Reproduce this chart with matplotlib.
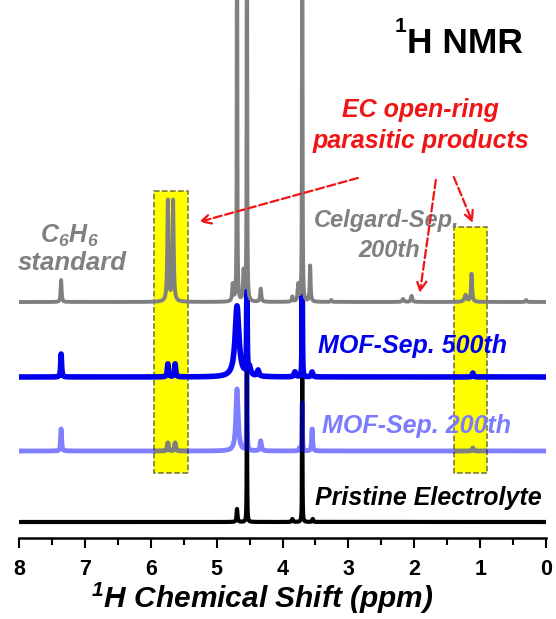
import numpy as np
import matplotlib.pyplot as plt
from matplotlib.patches import Rectangle
from matplotlib.ticker import MultipleLocator

plt.rcParams['font.family'] = 'Liberation Sans'
plt.rcParams['mathtext.fontset'] = 'custom'
plt.rcParams['mathtext.rm'] = 'Liberation Sans:bold:italic'
plt.rcParams['mathtext.it'] = 'Liberation Sans:bold:italic'
plt.rcParams['mathtext.bf'] = 'Liberation Sans:bold'

# peak lists: shift (ppm), height, half width (ppm)
gray_shift = [7.36, 5.74, 5.66, 4.755, 4.69, 4.59, 4.54, 4.33, 3.85, 3.76, 3.70, 3.58, 3.26, 2.17, 2.04, 1.22, 1.13, 0.30]
gray_height = [22, 101, 101, 17, 800, 30, 800, 13, 5, 17, 800, 36, 2, 3, 6, 7, 28, 2]
gray_width = [0.008, 0.010, 0.010, 0.010, 0.003, 0.010, 0.003, 0.010, 0.010, 0.010, 0.003, 0.008, 0.01, 0.015, 0.012, 0.02, 0.010, 0.01]

blue_shift = [7.36, 5.74, 5.63, 4.69, 4.54, 4.50, 4.37, 3.81, 3.70, 3.55, 1.11]
blue_height = [23, 13, 13, 71, 95, 8, 6, 5, 95, 5, 4]
blue_width = [0.008, 0.010, 0.010, 0.035, 0.005, 0.02, 0.015, 0.015, 0.004, 0.012, 0.010]

light_shift = [7.36, 5.74, 5.63, 4.69, 4.54, 4.33, 3.74, 3.70, 3.55, 1.11]
light_height = [22, 8, 8, 62, 90, 10, 3, 48, 22, 3]
light_width = [0.008, 0.010, 0.010, 0.020, 0.004, 0.012, 0.01, 0.004, 0.008, 0.010]

black_shift = [4.69, 4.54, 3.85, 3.70, 3.54]
black_height = [13, 165, 3, 165, 3]
black_width = [0.008, 0.003, 0.01, 0.003, 0.008]

# vertical offsets of the stacked spectra
offsets = {'gray': 236, 'blue': 161, 'light': 87, 'black': 16}

ppm = np.linspace(0, 8, 16001)


def spectrum(shift, height, width):
    y = np.zeros_like(ppm)
    for s, h, w in zip(shift, height, width):
        y += h / (1 + ((ppm - s) / w) ** 2)
    return y


fig = plt.figure(figsize=(5.56, 6.19), dpi=100)
ax = fig.add_axes([19 / 556, 81 / 619, 527 / 556, 538 / 619])
ax.set_xlim(8, 0)
ax.set_ylim(0, 538)

# yellow highlight boxes
for x0, x1, top in [(5.44, 5.95, 347), (0.90, 1.40, 311)]:
    ax.add_patch(Rectangle((x0, 65), x1 - x0, top - 65, facecolor='#ffff00',
                           edgecolor='#6e6e3c', lw=1.1, ls='--', zorder=1))

ax.plot(ppm, spectrum(black_shift, black_height, black_width) + offsets['black'],
        color='black', lw=3, zorder=2)
ax.plot(ppm, spectrum(light_shift, light_height, light_width) + offsets['light'],
        color='#0000ff', alpha=0.5, lw=3.5, zorder=3)
ax.plot(ppm, spectrum(blue_shift, blue_height, blue_width) + offsets['blue'],
        color='#0000ee', lw=4, zorder=4)
ax.plot(ppm, spectrum(gray_shift, gray_height, gray_width) + offsets['gray'],
        color='#808080', lw=2.8, zorder=5)

for side in ['left', 'right', 'top']:
    ax.spines[side].set_visible(False)
ax.spines['bottom'].set_linewidth(1.8)
ax.set_yticks([])
ax.set_xticks(range(0, 9))
ax.xaxis.set_minor_locator(MultipleLocator(0.5))
ax.tick_params(axis='x', which='major', length=7, width=1.5, labelsize=15.5, pad=8)
ax.tick_params(axis='x', which='minor', length=5, width=1.5)
for lab in ax.get_xticklabels():
    lab.set_fontweight('bold')

ax.set_xlabel('$^1$H Chemical Shift (ppm)', fontsize=21.5, fontweight='bold', style='italic')
ax.xaxis.set_label_coords(0.461, -0.08)

# labels
ax.text(2.112, 485, 'H NMR', fontsize=25.5, fontweight='bold', ha='left', va='baseline')
ax.text(2.125, 506, '1', fontsize=15, fontweight='bold', ha='right', va='baseline')

red = '#f01414'
ax.text(1.90, 421, 'EC open-ring', color=red, fontsize=18, fontweight='bold',
        style='italic', ha='center', va='baseline', zorder=6)
ax.text(1.90, 390, 'parasitic products', color=red, fontsize=18, fontweight='bold',
        style='italic', ha='center', va='baseline', zorder=6)

ax.text(2.416, 311, 'Celgard-Sep.', color='#808080', fontsize=17, fontweight='bold',
        style='italic', ha='center', va='baseline', zorder=6)
ax.text(2.38, 281, '200th', color='#808080', fontsize=17, fontweight='bold',
        style='italic', ha='center', va='baseline', zorder=6)

ax.text(7.68, 295, 'C$_6$H$_6$', color='#808080', fontsize=18, fontweight='bold',
        style='italic', ha='left', va='baseline', zorder=6)
ax.text(8.015, 268, 'standard', color='#808080', fontsize=18.5, fontweight='bold',
        style='italic', ha='left', va='baseline', zorder=6)

ax.text(3.463, 185, 'MOF-Sep. 500th', color='#0000ee', fontsize=18, fontweight='bold',
        style='italic', ha='left', va='baseline', zorder=6)
ax.text(3.402, 105, 'MOF-Sep. 200th', color='#7b7bff', fontsize=18, fontweight='bold',
        style='italic', ha='left', va='baseline', zorder=6)
ax.text(3.508, 33, 'Pristine Electrolyte', color='black', fontsize=18, fontweight='bold',
        style='italic', ha='left', va='baseline', zorder=6)

# dashed arrows
arrow = dict(arrowstyle='->,head_length=0.7,head_width=0.35', color=red, lw=1.6,
             linestyle='--', shrinkA=0, shrinkB=0)
for start, end in [((2.856, 360), (5.269, 316)),
                   ((1.672, 358), (1.915, 245)),
                   ((1.40, 361), (1.11, 315))]:
    ax.annotate('', xy=end, xytext=start, arrowprops=arrow, zorder=6)

fig.savefig('out.png', dpi=100)
